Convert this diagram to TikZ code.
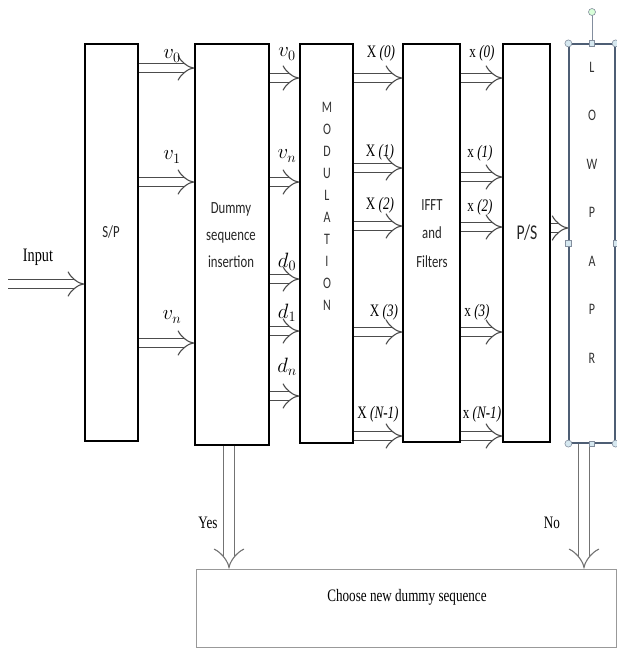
\documentclass[tikz,border=0pt]{standalone}
\usepackage{fontspec}
\setmainfont{Liberation Serif}[FakeStretch=0.75]
\newfontfamily\calib{Carlito}[FakeStretch=0.75]
\usepackage{tikz}
\usetikzlibrary{arrows.meta}
\definecolor{lowc}{RGB}{78,94,116}
\definecolor{hdlfill}{RGB}{214,232,240}
\tikzset{
  blk/.style={draw, line width=1.6pt, inner sep=0pt},
  lowblk/.style={draw=lowc, line width=1.2pt, inner sep=0pt},
  chblk/.style={draw=gray!80, line width=0.8pt, inner sep=0pt},
  dbl/.style={double=white, double distance=8pt, line width=1.1pt, draw=black!70, -{Implies}},
  vdbl/.style={dbl, double distance=10pt, draw=black!55},
  sf/.style={font=\calib\fontsize{17}{27}\selectfont, align=center, text=black!85},
  stack/.style={font=\calib\fontsize{16}{22}\selectfont, align=center, text=black!80},
  tm/.style={font=\fontsize{17.5}{20}\selectfont},
  mth/.style={font=\fontsize{21}{22}\selectfont},
  hnd/.style={draw=lowc!70, fill=hdlfill, line width=0.6pt, inner sep=0pt},
}

\begin{document}
\begin{tikzpicture}[x=1pt, y=-1pt]
  \useasboundingbox (0,0) rectangle (617,649);
  % blocks
  \node[blk, minimum width=53pt, minimum height=397pt] (sp) at (111.5,242.5) {};
  \node[blk, minimum width=74pt, minimum height=401pt] (dum) at (232,244.5) {};
  \node[blk, minimum width=53pt, minimum height=399pt] (mod) at (326.5,243.5) {};
  \node[blk, minimum width=57pt, minimum height=398pt] (ifft) at (431.5,243) {};
  \node[blk, minimum width=47pt, minimum height=398pt] (ps) at (526.5,243) {};
  \node[lowblk, minimum width=46pt, minimum height=399pt] (low) at (592,243.5) {};
  \node[chblk, minimum width=420pt, minimum height=78pt] (cho) at (406,608) {};
  % block texts
  \node[sf] (tsp) at (111,232) {S/P};
  \node[sf] (tdum) at (231,235) {Dummy\\sequence\\insertion};
  \node[stack] (tmod) at (327,206.5) {M\\O\\D\\U\\L\\A\\T\\I\\O\\N};
  \node[sf, font=\calib\fontsize{17}{28.5}\selectfont] (tifft) at (432,233.5) {IFFT\\and\\Filters};
  \node[sf, font=\calib\fontsize{21}{24}\selectfont] (tps) at (527,233) {P/S};
  \node[stack, font=\calib\fontsize{16}{48.5}\selectfont] (tlow) at (592,212.5) {L\\O\\W\\P\\A\\P\\R};
  \node[tm] (tcho) at (407,597) {Choose new dummy sequence};
  % input
  \coordinate (in) at (8,284);
  \draw[dbl] (in) -- (sp.west |- in);
  \node[tm, font=\fontsize{19}{20}\selectfont] (tin) at (38,257) {Input};
  % S/P to dummy
  \foreach \y/\ly/\t [count=\i] in {68/56/v_0, 182/157/v_1, 343/317/v_n} {
    \draw[dbl] (sp.east |- 0,\y) -- (dum.west |- 0,\y);
    \node[mth] (a\i) at (172,\ly) {$\t$};
  }
  % dummy to modulation
  \foreach \y/\ly/\t [count=\i] in {78/54/v_0, 182/156/v_n, 279/262/d_0, 331/313/d_1, 396/367/d_n} {
    \draw[dbl] (dum.east |- 0,\y) -- (mod.west |- 0,\y);
    \node[mth] (b\i) at (287,\ly) {$\t$};
  }
  % modulation to IFFT
  \foreach \y/\lx/\ly/\t [count=\i] in {78/381/53/0, 168/380/152/1, 226/380/205/2, 332/384/312/3, 436/378/414/N-1} {
    \draw[dbl] (mod.east |- 0,\y) -- (ifft.west |- 0,\y);
    \node[tm] (c\i) at (\lx,\ly) {X \textit{(\t)}};
  }
  % IFFT to P/S
  \foreach \y/\lx/\ly/\t [count=\i] in {78/482/53/0, 177/480/153/1, 227/480/207/2, 332/477/312/3, 436/482/414/N-1} {
    \draw[dbl] (ifft.east |- 0,\y) -- (ps.west |- 0,\y);
    \node[tm] (e\i) at (\lx,\ly) {x \textit{(\t)}};
  }
  \draw[dbl] (ps.east |- 0,228) -- (low.west |- 0,228);
  % decisions
  \draw[vdbl] (dum.south -| 229,0) -- (cho.north -| 229,0);
  \draw[vdbl] (low.south -| 584,0) -- (cho.north -| 584,0);
  \node[tm] (tyes) at (208,523) {Yes};
  \node[tm] (tno) at (552,523) {No};
  % selection handles
  \coordinate (rot) at (592,12);
  \draw[lowc!70, line width=0.6pt] (low.north) -- (rot);
  \node[hnd, circle, minimum size=7pt, fill=green!15] (hr) at (rot) {};
  \foreach \a [count=\i] in {north west, north east, south west, south east}
    \node[hnd, circle, minimum size=7pt] (hc\i) at (low.\a) {};
  \foreach \a [count=\i] in {north, south, west, east}
    \node[hnd, minimum size=5.5pt] (hs\i) at (low.\a) {};
\end{tikzpicture}
\end{document}
